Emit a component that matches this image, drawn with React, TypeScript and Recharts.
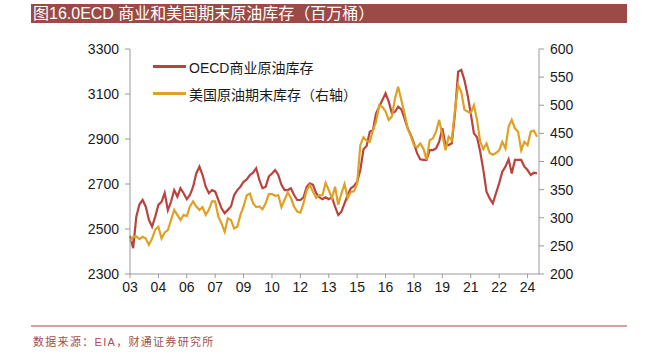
import React from "react";
import { LineChart, Line, XAxis, YAxis, Legend } from "recharts";

// bimonthly points, Jan 2003 .. Jul 2024 (Jan, Mar, May, Jul, Sep, Nov)
const START_YEAR = 2003;

// OECD commercial crude stocks, million barrels (left axis)
const oecdStocks = [
  2470, 2415, 2555, 2610, 2629, 2599, // 03
  2540, 2510, 2555, 2607, 2621, 2660, // 04
  2584, 2621, 2673, 2644, 2681, 2659, // 05
  2632, 2651, 2688, 2747, 2777, 2740, // 06
  2688, 2659, 2673, 2666, 2629, 2592, // 07
  2570, 2585, 2600, 2650, 2673, 2688, // 08
  2710, 2720, 2740, 2750, 2770, 2718, // 09
  2681, 2688, 2733, 2747, 2762, 2740, // 10
  2696, 2673, 2673, 2681, 2651, 2629, // 11
  2629, 2641, 2688, 2703, 2696, 2659, // 12
  2641, 2632, 2641, 2632, 2641, 2599, // 13
  2562, 2577, 2614, 2651, 2681, 2691, // 14
  2710, 2762, 2854, 2869, 2932, 2940, // 15
  3014, 3044, 3073, 3103, 3066, 3014, // 16
  3021, 3044, 3032, 2992, 2948, 2918, // 17
  2881, 2836, 2810, 2807, 2807, 2851, // 18
  2851, 2858, 2888, 2948, 2873, 2873, // 19
  2881, 3014, 3199, 3207, 3162, 3096, // 20
  3014, 2925, 2908, 2843, 2762, 2666, // 21
  2636, 2614, 2659, 2703, 2755, 2777, // 22
  2810, 2747, 2807, 2807, 2807, 2777, // 23
  2762, 2740, 2750, 2747,             // 24
];

// US crude stocks at period end, million barrels (right axis)
const usStocks = [
  257, 266, 267, 262, 266, 263, // 03
  252, 263, 279, 284, 263, 274, // 04
  278, 296, 314, 305, 296, 305, // 05
  303, 320, 329, 320, 314, 319, // 06
  305, 314, 329, 329, 302, 290, // 07
  275, 299, 296, 281, 284, 305, // 08
  320, 340, 343, 326, 319, 320, // 09
  315, 326, 342, 342, 339, 340, // 10
  319, 332, 345, 335, 320, 311, // 11
  309, 326, 349, 358, 346, 335, // 12
  340, 340, 362, 349, 335, 355, // 13
  323, 343, 360, 335, 346, 347, // 14
  361, 429, 443, 437, 435, 455, // 15
  471, 500, 497, 489, 474, 480, // 16
  512, 533, 509, 486, 459, 445, // 17
  429, 425, 432, 423, 403, 438, // 18
  441, 453, 474, 447, 420, 444, // 19
  438, 492, 536, 524, 492, 489, // 20
  486, 500, 474, 435, 422, 432, // 21
  415, 412, 415, 420, 435, 423, // 22
  462, 474, 459, 453, 420, 435, // 23
  429, 453, 455, 444,           // 24
];

const leftTicks = [2300, 2500, 2700, 2900, 3100, 3300];
const rightTicks = [200, 250, 300, 350, 400, 450, 500, 550, 600];

const SERIES_OECD = "OECD商业原油库存";
const SERIES_US = "美国原油期末库存（右轴）";

const RED = "#b8433f";
const GOLD = "#e0a024";
const AXIS = "#9a9a9a";
const LATIN = "'Liberation Sans', Arial, sans-serif";
const CJK = "'Liberation Sans', 'Noto Sans CJK SC', sans-serif";

const data = oecdStocks.map((v, i) => {
  const year = START_YEAR + Math.floor(i / 6);
  const month = (i % 6) * 2 + 1;
  return {
    period: `${year}-${String(month).padStart(2, "0")}`,
    oecd: v,
    us: usStocks[i],
  };
});

const ChartLegend = () => (
  <div style={{ fontFamily: CJK, fontSize: 14, color: "#1a1a1a" }}>
    {[
      { name: SERIES_OECD, color: RED },
      { name: SERIES_US, color: GOLD },
    ].map((item) => (
      <div key={item.name} style={{ display: "flex", alignItems: "center", height: 27, whiteSpace: "nowrap" }}>
        <span style={{ width: 33, height: 2.5, background: item.color, marginRight: 3 }} />
        <span>{item.name}</span>
      </div>
    ))}
  </div>
);

export default function App() {
  return (
    <div style={{ position: "absolute", left: 0, top: 0, width: 651, height: 361, background: "#fff" }}>
      {/* title bar */}
      <div
        style={{
          position: "absolute", left: 31, top: 4, width: 596, height: 19,
          background: "#9c4a47", color: "#fff", fontFamily: CJK, fontSize: 16,
          lineHeight: "19px", paddingLeft: 2, boxSizing: "border-box", whiteSpace: "nowrap",
        }}
      >
        图16.0ECD 商业和美国期末原油库存（百万桶）
      </div>

      <div style={{ position: "absolute", left: 0, top: 0 }}>
        <LineChart width={651} height={361} data={data} margin={{ top: 49, right: 0, bottom: 57, left: 0 }}>
          <XAxis
            dataKey="period"
            interval={8}
            tickFormatter={(p: string) => p.slice(2, 4)}
            padding={{ left: 0, right: 2 }}
            height={30}
            stroke={AXIS}
            tickSize={4}
            tickMargin={4}
            tick={{ fill: "#1a1a1a", fontSize: 14, fontFamily: LATIN }}
          />
          <YAxis
            yAxisId="left"
            width={130}
            domain={[2300, 3300]}
            ticks={leftTicks}
            stroke={AXIS}
            tickSize={5}
            tickMargin={6}
            tick={{ fill: "#1a1a1a", fontSize: 14, fontFamily: LATIN }}
          />
          <YAxis
            yAxisId="right"
            orientation="right"
            width={112}
            domain={[200, 600]}
            ticks={rightTicks}
            stroke={AXIS}
            tickSize={5}
            tickMargin={6}
            tick={{ fill: "#1a1a1a", fontSize: 14, fontFamily: LATIN }}
          />
          <Legend
            layout="vertical"
            verticalAlign="middle"
            align="center"
            content={<ChartLegend />}
            wrapperStyle={{ left: 153, top: 53, width: 240 }}
          />
          <Line
            yAxisId="left"
            dataKey="oecd"
            name={SERIES_OECD}
            type="linear"
            stroke={RED}
            strokeWidth={2.2}
            dot={false}
            isAnimationActive={false}
          />
          <Line
            yAxisId="right"
            dataKey="us"
            name={SERIES_US}
            type="linear"
            stroke={GOLD}
            strokeWidth={2.2}
            dot={false}
            isAnimationActive={false}
          />
        </LineChart>
      </div>

      {/* footer */}
      <div style={{ position: "absolute", left: 31, top: 325, width: 596, height: 2, background: "#d3a3a1" }} />
      <div
        style={{
          position: "absolute", left: 33, top: 333, fontFamily: CJK, fontSize: 11,
          color: "#a4504c", letterSpacing: 1.3, whiteSpace: "nowrap",
        }}
      >
        数据来源：EIA，财通证券研究所
      </div>
    </div>
  );
}
